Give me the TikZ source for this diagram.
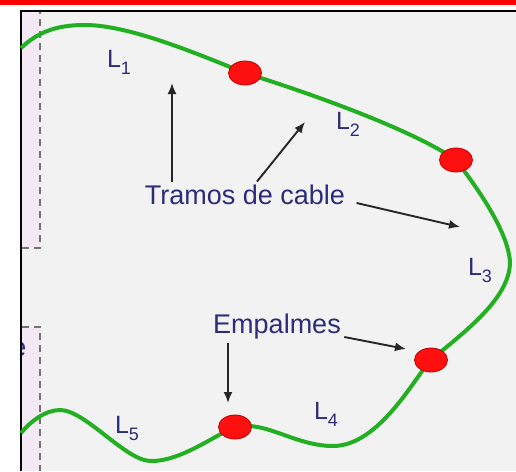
\documentclass[tikz,border=0pt]{standalone}
\usepackage{fontspec}
\setmainfont{Liberation Sans}
\usetikzlibrary{arrows.meta,positioning,shapes.geometric}
\definecolor{cbar}{HTML}{FF0000}
\definecolor{cpanel}{HTML}{F2F2F2}
\definecolor{cstrip}{HTML}{F3E8F3}
\definecolor{ccable}{HTML}{22B022}
\definecolor{cjoint}{HTML}{FF1010}
\definecolor{cjointborder}{HTML}{C00000}
\definecolor{ctext}{HTML}{2C2C7A}
\newcommand{\tramo}[1]{L\raisebox{-.28em}{\fontsize{18}{18}\selectfont #1}}

\begin{document}
\begin{tikzpicture}[
    x=1pt, y=-1pt,
    lbl/.style={text=ctext, font=\fontsize{27}{30}\selectfont},
    seg/.style={text=ctext, font=\fontsize{25}{28}\selectfont, inner sep=0pt},
    joint/.style={ellipse, draw=cjointborder, fill=cjoint, line width=0.8pt,
                  minimum width=33pt, minimum height=24pt, inner sep=0pt},
    cable/.style={draw=ccable, line width=4pt},
    guide/.style={draw=black!55, line width=2pt, dash pattern=on 7pt off 5pt},
    arr/.style={-{Latex[length=11pt,width=9pt]}, line width=1.9pt, draw=black!85}
]
\useasboundingbox (0,0) rectangle (516,471);
\fill[cbar] (0,0) rectangle (516,4.5);
\fill[cpanel] (21,11) rectangle (516,471);
\fill[cstrip] (21,11) rectangle (40,248);
\fill[cstrip] (21,327) rectangle (40,471);
\draw[guide] (22,248) -- (40,248) -- (40,11);
\draw[guide] (22,327) -- (40,327) -- (40,471);
\begin{scope}
\clip (22,327) rectangle (40,471);
\node[lbl] (cut) at (19,349) {e};
\end{scope}
\draw[black, line width=2pt] (21,471) -- (21,11) -- (516,11);

\coordinate (j1) at (245,73);
\coordinate (j2) at (456,160);
\coordinate (j3) at (431,360);
\coordinate (j4) at (235,427);
\draw[cable] (21,48) .. controls (40,30) and (60,25) .. (85,25)
    .. controls (130,25) and (200,55) .. (j1)
    .. controls (300,90) and (410,128) .. (j2)
    .. controls (475,185) and (508,230) .. (510,262)
    .. controls (510,300) and (460,335) .. (j3)
    .. controls (416,375) and (380,446) .. (333,446)
    .. controls (295,446) and (265,420) .. (j4)
    .. controls (215,435) and (180,462) .. (150,461)
    .. controls (125,460) and (85,410) .. (60,410)
    .. controls (45,410) and (30,422) .. (21,433);
\node[joint] (e1) at (j1) {};
\node[joint] (e2) at (j2) {};
\node[joint] (e3) at (j3) {};
\node[joint] (e4) at (j4) {};

\node[seg] (l1) at (119,62) {\tramo{1}};
\node[seg] (l2) at (348,124) {\tramo{2}};
\node[seg] (l3) at (480,270) {\tramo{3}};
\node[seg] (l4) at (326,414) {\tramo{4}};
\node[seg] (l5) at (127,428) {\tramo{5}};

\node[lbl] (tramos) at (245,195) {Tramos de cable};
\node[lbl] (empalmes) at (277,327) {Empalmes};

\coordinate (t1) at (172,83);
\coordinate (t2) at (305,122);
\coordinate (t3) at (460,227);
\coordinate (t4) at (406,349);
\coordinate (t5) at (228,403);
\draw[arr] (tramos.north -| t1) -- (t1);
\draw[arr] ([xshift=12pt]tramos.north) -- (t2);
\draw[arr] ([shift={(8pt,-8pt)}]tramos.east) -- (t3);
\draw[arr] ([yshift=-10pt]empalmes.east) -- (t4);
\draw[arr] (empalmes.south -| t5) -- (t5);
\end{tikzpicture}
\end{document}
